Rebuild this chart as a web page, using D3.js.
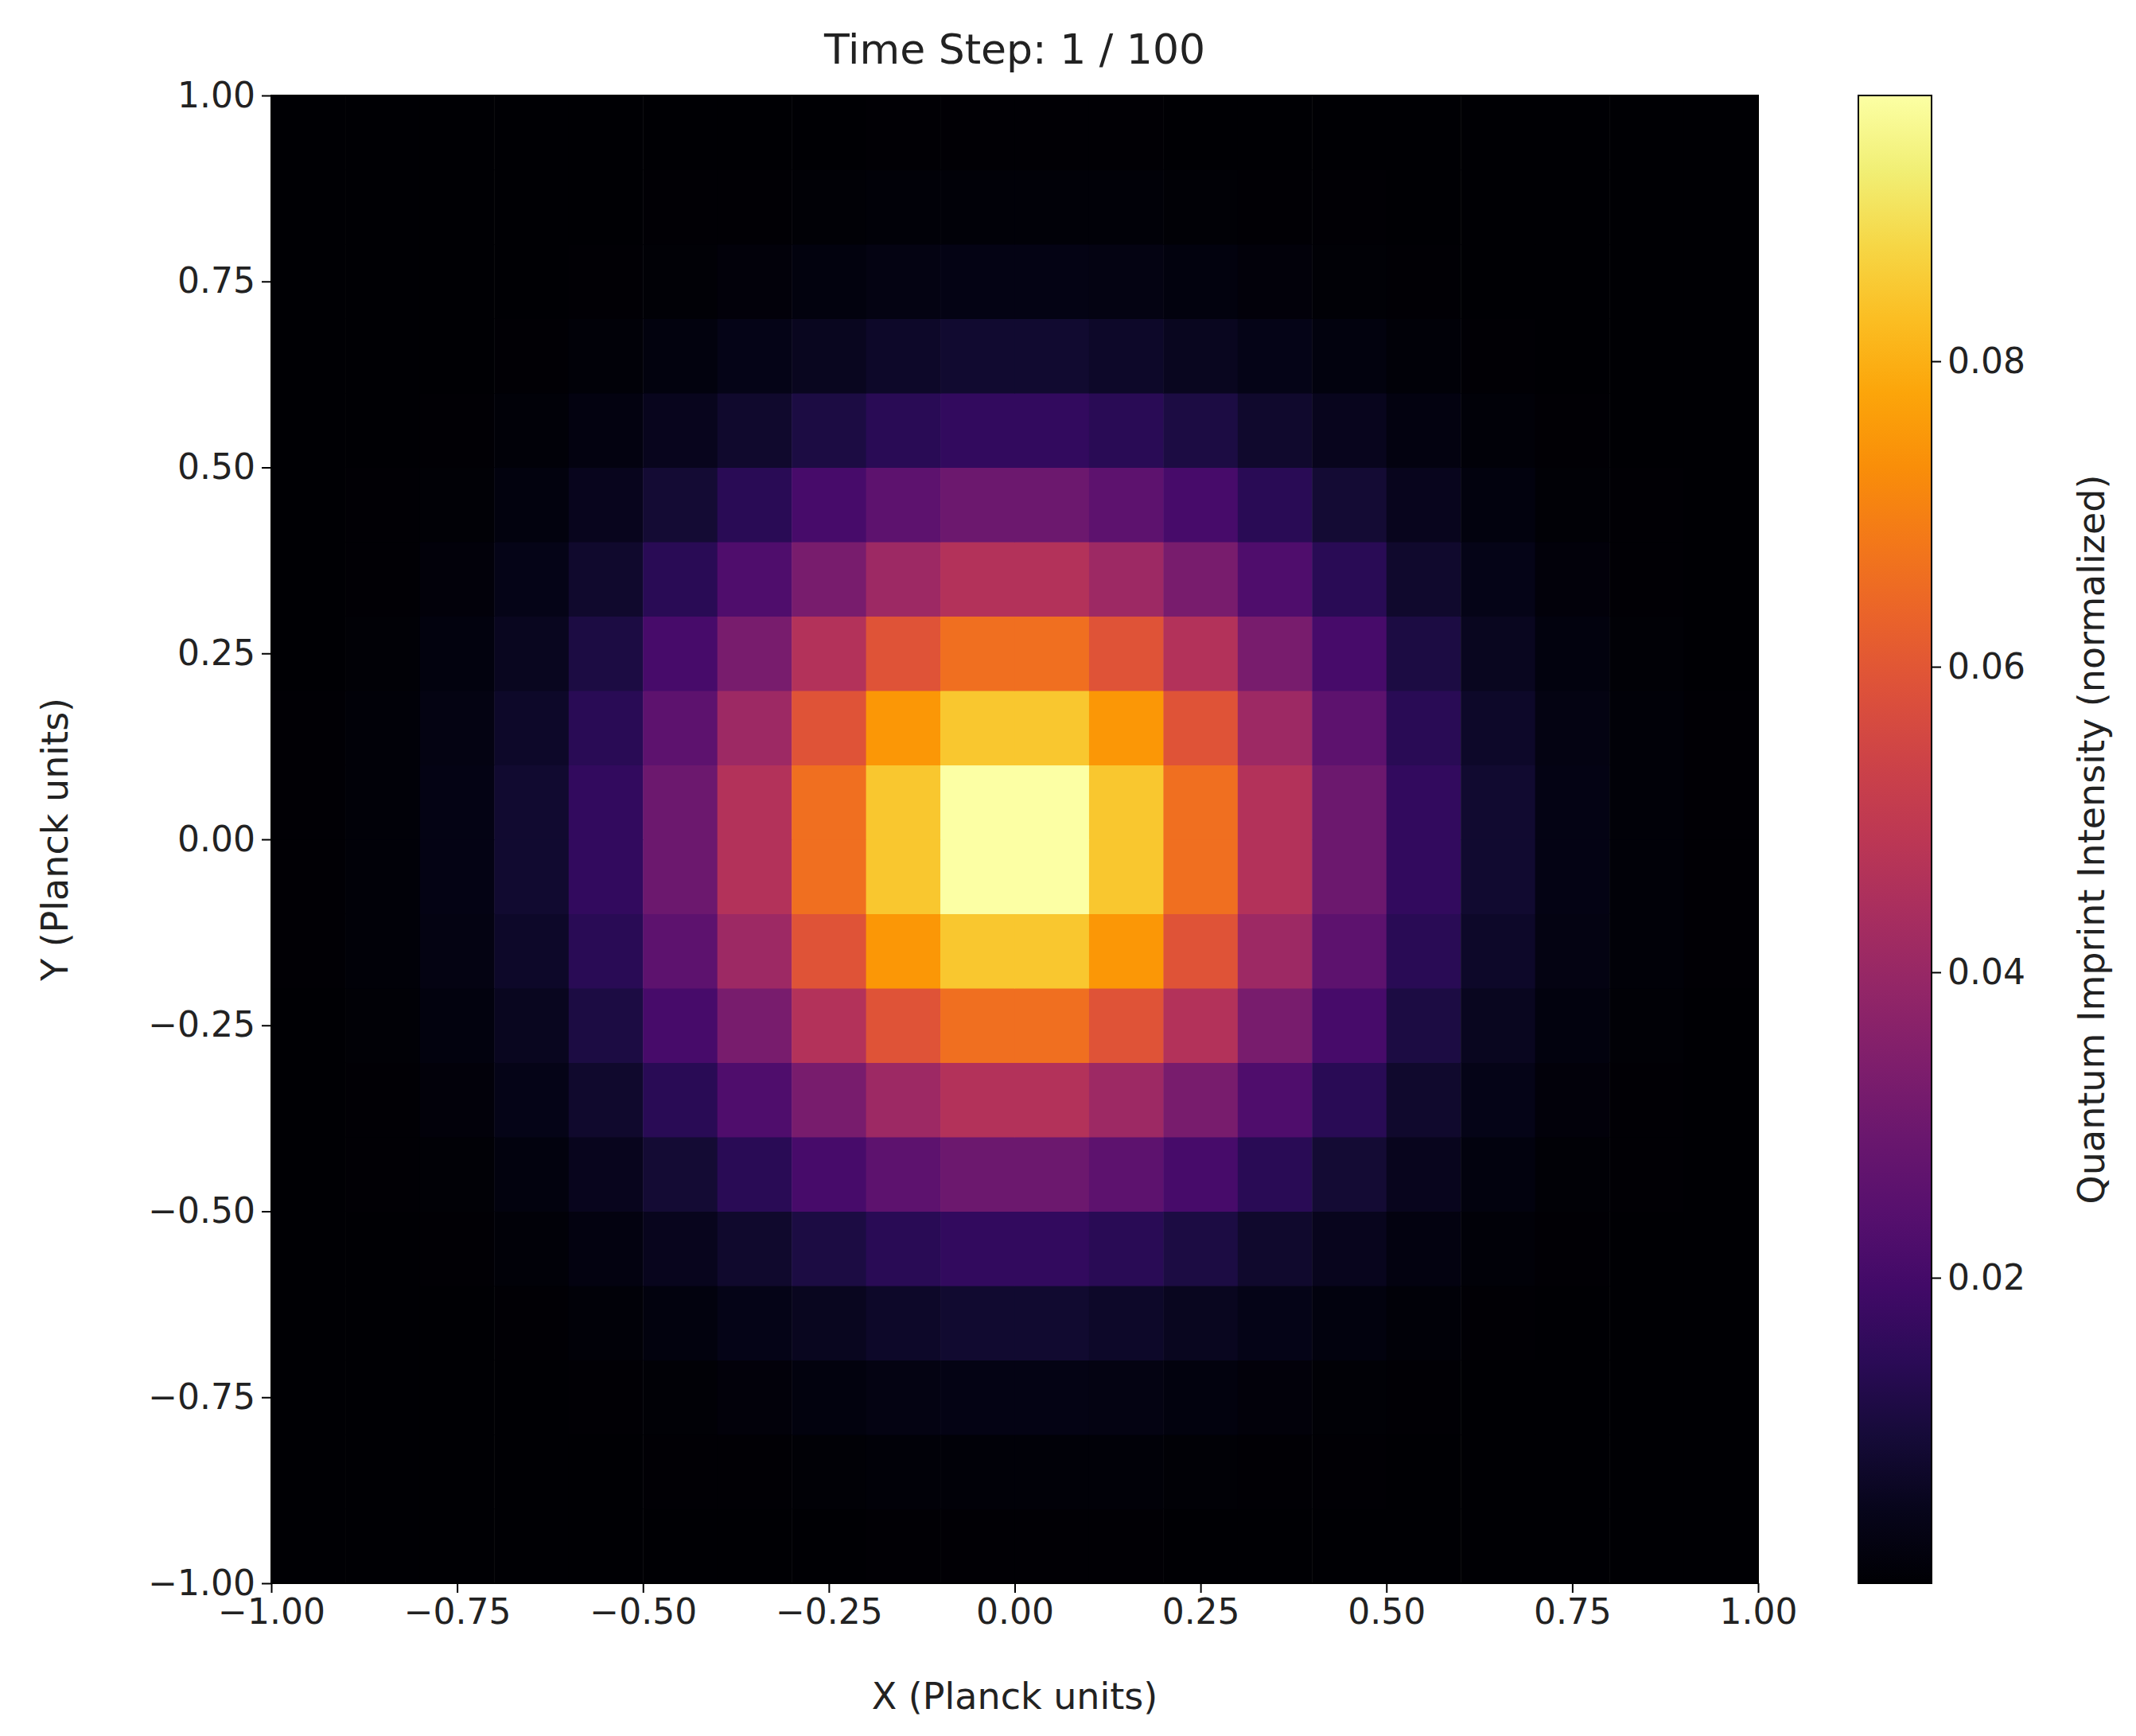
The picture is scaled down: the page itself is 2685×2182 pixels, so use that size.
<!DOCTYPE html>
<html><head><meta charset="utf-8">
<script src="https://cdn.jsdelivr.net/npm/d3@7"></script>
<style>body{margin:0;background:#fff}text{font-family:"DejaVu Sans",sans-serif;fill:#222}</style>
</head><body>
<svg id="c" width="2685" height="2182"></svg>
<script>
// Quadrant of intensities (row = |y| cell index from centre, col = |x| cell index from centre)
const quadrant = [
 [.0974,.0846,.0665,.0466,.0295,.0162,.0081,.0035,.0013,.0005],
 [.0846,.0753,.0592,.0414,.0262,.0144,.0072,.0031,.0012,.0004],
 [.0665,.0592,.0466,.0326,.0206,.0113,.0057,.0025,.0009,.0003],
 [.0466,.0414,.0326,.0228,.0144,.0079,.0040,.0017,.0007,.0002],
 [.0295,.0262,.0206,.0144,.0091,.0050,.0025,.0011,.0004,.0001],
 [.0162,.0144,.0113,.0079,.0050,.0027,.0014,.0006,.0002,.0001],
 [.0081,.0072,.0057,.0040,.0025,.0014,.0007,.0003,.0001,.00005],
 [.0035,.0031,.0025,.0017,.0011,.0006,.0003,.0001,.00005,.00003],
 [.0013,.0012,.0009,.0007,.0004,.0002,.0001,.00005,.00003,.00002],
 [.0005,.0004,.0003,.0002,.0001,.0001,.00005,.00003,.00002,.00001]
];
const axisTicks = [-1,-0.75,-0.5,-0.25,0,0.25,0.5,0.75,1];
const cbTicks = [0.02,0.04,0.06,0.08];
const cbMin = 0, cbMax = 0.0974;

const N = 20;
const cells = [];
for (let r=0;r<N;r++) for (let c=0;c<N;c++){
  const qr = r<10 ? 9-r : r-10, qc = c<10 ? 9-c : c-10;
  cells.push({x0:-1+c*0.1, y0:-1+r*0.1, v:quadrant[qr][qc]});
}
const svg = d3.select("#c");
const L=341,R=2210,T=120,B=1990;
const x = d3.scaleLinear().domain([-1,1]).range([L,R]);
const y = d3.scaleLinear().domain([-1,1]).range([B,T]);
const col = d3.scaleSequential(d3.interpolateInferno).domain([cbMin,cbMax]);
const fmt = d3.format(".2f");
const minus = s => s.replace("-","\u2212");

svg.append("g").selectAll("rect").data(cells).join("rect")
 .attr("x",d=>x(d.x0)).attr("y",d=>y(d.y0+0.1))
 .attr("width",d=>x(d.x0+0.1)-x(d.x0)+0.5).attr("height",d=>y(d.y0)-y(d.y0+0.1)+0.5)
 .attr("fill",d=>col(d.v));
svg.append("rect").attr("x",L).attr("y",T).attr("width",R-L).attr("height",B-T).attr("fill","none").attr("stroke","#000").attr("stroke-width",2);

const ax = svg.append("g").attr("transform",`translate(0,${B})`).call(d3.axisBottom(x).tickValues(axisTicks).tickFormat(d=>minus(fmt(d))).tickSize(12).tickPadding(8));
const ay = svg.append("g").attr("transform",`translate(${L},0)`).call(d3.axisLeft(y).tickValues(axisTicks).tickFormat(d=>minus(fmt(d))).tickSize(12).tickPadding(8));
[ax,ay].forEach(g=>{g.select(".domain").remove();g.selectAll("line").attr("stroke","#000").attr("stroke-width",2);g.selectAll("text").attr("font-size",44).attr("fill","#222").attr("font-family","DejaVu Sans");});

svg.append("text").attr("x",(L+R)/2).attr("y",80).attr("text-anchor","middle").attr("font-size",52).text("Time Step: 1 / 100");
svg.append("text").attr("x",(L+R)/2).attr("y",2148).attr("text-anchor","middle").attr("font-size",46).text("X (Planck units)");
svg.append("text").attr("transform",`translate(85,${(T+B)/2}) rotate(-90)`).attr("text-anchor","middle").attr("font-size",46).text("Y (Planck units)");

// colorbar
const cx0=2336,cx1=2428;
const cy = d3.scaleLinear().domain([cbMin,cbMax]).range([B,T]);
const defs = svg.append("defs");
const grad = defs.append("linearGradient").attr("id","g").attr("x1",0).attr("y1",1).attr("x2",0).attr("y2",0);
d3.range(0,1.0001,0.05).forEach(t=>grad.append("stop").attr("offset",t).attr("stop-color",d3.interpolateInferno(t)));
svg.append("rect").attr("x",cx0).attr("y",T).attr("width",cx1-cx0).attr("height",B-T).attr("fill","url(#g)").attr("stroke","#000").attr("stroke-width",2);
const cb = svg.append("g").attr("transform",`translate(${cx1},0)`).call(d3.axisRight(cy).tickValues(cbTicks).tickFormat(d3.format(".2f")).tickSize(12).tickPadding(8));
cb.select(".domain").remove();cb.selectAll("line").attr("stroke","#000").attr("stroke-width",2);cb.selectAll("text").attr("font-size",44).attr("fill","#222");
svg.append("text").attr("transform",`translate(2645,${(T+B)/2}) rotate(-90)`).attr("text-anchor","middle").attr("font-size",46).text("Quantum Imprint Intensity (normalized)");
</script></body></html>
